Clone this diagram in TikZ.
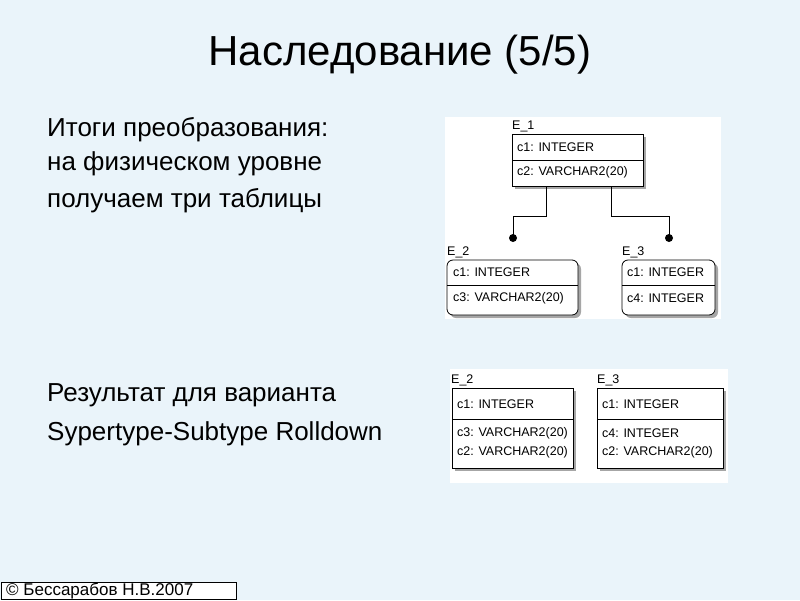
\documentclass[tikz,border=0pt]{standalone}
\usepackage{fontspec}
\setmainfont{Liberation Sans}
\definecolor{bg}{HTML}{EAF4FA}
\begin{document}
\begin{tikzpicture}[x=1pt,y=-1pt,
 tx/.style={anchor=west,font=\fontsize{26}{30}\selectfont,inner sep=0},
 sm/.style={anchor=west,font=\fontsize{12.5}{15}\selectfont,inner sep=0},
 ent/.style={draw,line width=0.8pt,fill=white},
 shad/.style={fill=gray!70}]
\fill[bg] (0,0) rectangle (800,600);
\useasboundingbox (0,0) rectangle (800,600);
\node (title) at (400,55) {\fontsize{42}{48}\selectfont Наследование (5/5)};
\node[tx] (t1) at (47,130) {Итоги преобразования:};
\node[tx] (t2) at (47,164) {на физическом уровне};
\node[tx] (t3) at (47,201) {получаем три таблицы};
\node[tx] (t4) at (47,395) {Результат для варианта};
\node[tx] (t5) at (47,434) {Sypertype-Subtype Rolldown};
% panels
\fill[white] (445,117) rectangle (721,319);
\fill[white] (450,369) rectangle (728,483);
% E_1
\fill[shad] (515,137) rectangle (646,189);
\draw[ent] (512,134) rectangle (643,186);
\draw (512,160) -- (643,160);
\node[sm] (e1) at (512,126) {E\_1};
\node[sm] at (517,147) {c1: INTEGER};
\node[sm] at (517,172) {c2: VARCHAR2(20)};
% E_2
\fill[shad,rounded corners=6] (450,263) rectangle (581,318);
\draw[ent,rounded corners=6] (447,260) rectangle (578,315);
\draw (447,285) -- (578,285);
\node[sm] at (447,252) {E\_2};
\node[sm] at (453,272) {c1: INTEGER};
\node[sm] at (453,298) {c3: VARCHAR2(20)};
% E_3
\fill[shad,rounded corners=6] (625,263) rectangle (718,318);
\draw[ent,rounded corners=6] (622,260) rectangle (715,315);
\draw (622,285) -- (715,285);
\node[sm] at (622,252) {E\_3};
\node[sm] at (627,272) {c1: INTEGER};
\node[sm] at (627,298) {c4: INTEGER};
% connectors
\coordinate (d1) at (513,238); \coordinate (d2) at (669,238);
\draw (546,186) -- (546,216) -- (513,216) -- (d1);
\draw (611,186) -- (611,216) -- (669,216) -- (d2);
\fill (d1) circle (4); \fill (d2) circle (4);
% bottom E_2
\fill[shad] (455,391) rectangle (576,471);
\draw[ent] (452,388) rectangle (573,468);
\draw (452,419) -- (573,419);
\node[sm] at (451,380) {E\_2};
\node[sm] at (457,404) {c1: INTEGER};
\node[sm] at (457,433) {c3: VARCHAR2(20)};
\node[sm] at (457,452) {c2: VARCHAR2(20)};
% bottom E_3
\fill[shad] (600,391) rectangle (726,471);
\draw[ent] (597,388) rectangle (723,468);
\draw (597,419) -- (723,419);
\node[sm] at (597,380) {E\_3};
\node[sm] at (602,404) {c1: INTEGER};
\node[sm] at (602,433) {c4: INTEGER};
\node[sm] at (602,452) {c2: VARCHAR2(20)};
% copyright
\draw[fill=white,line width=0.8pt] (1,582) rectangle (236,599);
\node[anchor=west,inner sep=0,font=\fontsize{17}{19}\selectfont] (cp) at (6,591) {© Бессарабов Н.В.2007};
\end{tikzpicture}
\end{document}
